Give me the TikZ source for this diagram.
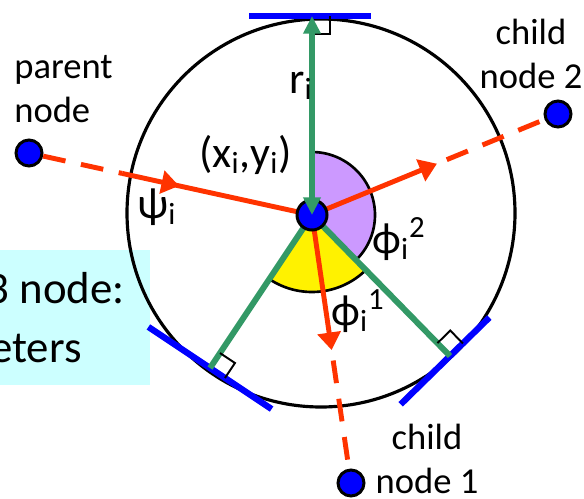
\documentclass[tikz,border=0pt]{standalone}
\usepackage{fontspec}
\setmainfont{Carlito}
\usetikzlibrary{arrows.meta,calc,decorations.markings}
\definecolor{redline}{RGB}{255,51,0}
\definecolor{greenline}{RGB}{51,153,102}
\definecolor{lilac}{RGB}{204,153,255}
\definecolor{paleCyan}{RGB}{204,255,255}

\begin{document}
\begin{tikzpicture}[x=0.2mm,y=0.2mm,
    dot/.style={circle,fill=blue,draw=black,line width=1.7pt,minimum size=5.2mm,inner sep=0pt},
    radius line/.style={color=greenline,line width=3.4pt},
    tangent/.style={blue,line width=3.6pt},
    edge solid/.style={redline,line width=2.8pt},
    edge dash/.style={redline,line width=2.8pt,dash pattern=on 13pt off 9pt},
    right mark/.style={black,line width=1.1pt},
    red tip/.style={-{Triangle[length=10pt,width=13pt]}},
    lbl/.style={font=\fontsize{20.8}{24.5}\selectfont,inner sep=0pt},
    sym/.style={font=\fontsize{25}{30}\selectfont,inner sep=0pt,anchor=base west},
    boxtext/.style={font=\fontsize{25.5}{30}\selectfont,inner sep=0pt,anchor=base east}]
    \useasboundingbox (0,0) rectangle (584,498);
    % centre, circle and tangent points
    \coordinate(C)at(312,283);
    \coordinate(O)at(321,285);
    \coordinate(T0)at(312,482);
    \coordinate(L)at(210,130);
    \coordinate(R)at(450,142);
    % neighbour positions
    \coordinate(P0)at(29,345);
    \coordinate(Q1)at(351,15);
    \coordinate(Q2)at(558,384);
    % where the red lines change from solid to dashed
    \coordinate(J1)at($(C)!0.671!(P0)$);
    \coordinate(J2)at($(C)!0.508!(Q2)$);
    \coordinate(J3)at($(C)!0.504!(Q1)$);
    % tangent line ends
    \coordinate(Ta)at($(T0)!12.6mm!-90:(C)$);
    \coordinate(Tb)at($(T0)!11.8mm!90:(C)$);
    \coordinate(La)at($(L)!14.8mm!90:(C)$);
    \coordinate(Lb)at($(L)!14.8mm!-90:(C)$);
    \coordinate(Ra)at($(R)!13.8mm!90:(C)$);
    \coordinate(Rb)at($(R)!11mm!-90:(C)$);

    \fill[paleCyan](0,113)rectangle(150,248);
    \node[boxtext](boxtop)at(125,195){3 node:};
    \node[boxtext](boxbottom)at(82,136){eters};

    \draw[line width=1.8pt](O)circle(194);

    \draw[fill=lilac,line width=1.5pt](C)--++(-45.6:63)arc[start angle=-45.6,end angle=90,radius=63]--cycle;
    \draw[fill=yellow,line width=1.5pt](C)--++(236.3:77)arc[start angle=236.3,end angle=314.4,radius=77]--cycle;

    \draw[tangent](Ta)--(Tb);
    \draw[tangent](La)--(Lb);
    \draw[tangent](Ra)--(Rb);

    \draw[radius line](C)--(L);
    \draw[radius line](C)--(R);

    \draw[right mark]($(T0)!3.6mm!90:(C)$)--($($(T0)!3.6mm!90:(C)$)+($(T0)!3.6mm!(C)$)-(T0)$)--($(T0)!3.6mm!(C)$);
    \draw[right mark]($(L)!3.6mm!-90:(C)$)--($($(L)!3.6mm!-90:(C)$)+($(L)!3.6mm!(C)$)-(L)$)--($(L)!3.6mm!(C)$);
    \draw[right mark]($(R)!3.6mm!-90:(C)$)--($($(R)!3.6mm!-90:(C)$)+($(R)!3.6mm!(C)$)-(R)$)--($(R)!3.6mm!(C)$);

    \node[dot](parent)at(P0){};
    \node[dot](child1)at(Q1){};
    \node[dot](child2)at(Q2){};

    \draw[edge dash](parent)--(J1);
    \draw[edge solid,postaction={decorate},decoration={markings,
        mark=at position 0.3 with {\arrow{Triangle[length=10pt,width=13pt]}}}](J1)--(C);
    \draw[edge solid,red tip](C)--(J2);
    \draw[edge dash,dash phase=16pt](J2)--(child2);
    \draw[edge solid,red tip](C)--(J3);
    \draw[edge dash,dash phase=16pt](J3)--(child1);

    \node[dot,minimum size=6mm](ctr)at(C){};
    \draw[radius line,{Triangle[length=10pt,width=9.5pt]}-{Triangle[length=10pt,width=9.5pt]}](ctr.center)--(T0);

    \node[lbl,align=left,anchor=base west](parentlbl)at(14,376){parent\\node};
    \node[lbl,align=center,anchor=base](child2lbl)at(531,410){child\\node 2};
    \node[lbl,align=center,anchor=base](child1lbl)at(427,5){child\\node 1};

    \node[sym](rlbl)at(289,405){r\textsubscript{i}};
    \node[sym](xylbl)at(199,331){(x\textsubscript{i},y\textsubscript{i})};
    \node[sym](psilbl)at(137,280){ψ\textsubscript{i}};
    \node[sym](phitwo)at(372,245){ϕ\textsubscript{i}\textsuperscript{2}};
    \node[sym](phione)at(331,173){ϕ\textsubscript{i}\textsuperscript{1}};
\end{tikzpicture}
\end{document}
